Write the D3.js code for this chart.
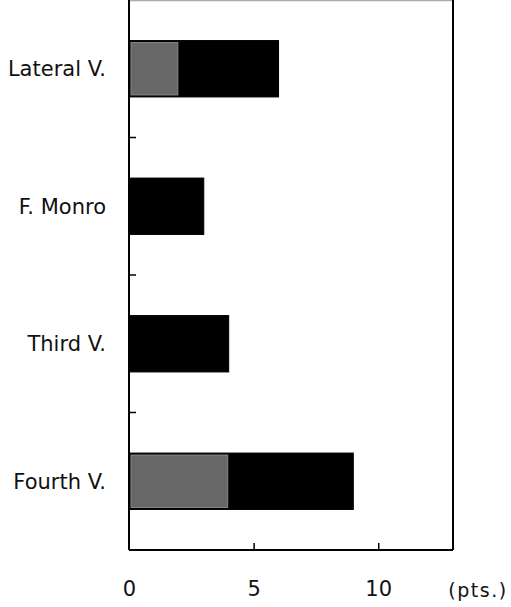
<!DOCTYPE html>
<meta charset="utf-8">
<style>
    body { margin: 0; background: #fff; }
    text { font-family: "DejaVu Sans", sans-serif; fill: #111; }
</style>
<svg width="511" height="607"></svg>
<script src="https://cdn.jsdelivr.net/npm/d3@7"></script>
<script>

    var categories = ["Lateral V.", "F. Monro", "Third V.", "Fourth V."];
    var grayValues = [2, 0, 0, 4];
    var blackValues = [4, 3, 4, 5];
    var xTicks = [0, 5, 10];
    var unitLabel = "(pts.)";

    var svg = d3.select("svg");

    var mLeft = 129, mRight = 453, mTop = 0, mBottom = 550;

    var x = d3.scaleLinear()
            .domain([0, 13])
            .range([mLeft, mRight]);

    var y = d3.scaleBand()
            .domain(categories)
            .range([mTop, mBottom])
            .paddingInner(0.59)
            .paddingOuter(0.295);

    // frame: light top line, dark right line
    svg.append("line")
            .attr("x1", mLeft).attr("x2", mRight)
            .attr("y1", mTop + 0.5).attr("y2", mTop + 0.5)
            .attr("stroke", "#aaa").attr("stroke-width", 1.5);
    svg.append("line")
            .attr("x1", mRight).attr("x2", mRight)
            .attr("y1", mTop).attr("y2", mBottom)
            .attr("stroke", "#000").attr("stroke-width", 2);

    var rows = categories.map(function(c, i) {
        return {cat: c, gray: grayValues[i], black: blackValues[i]};
    });

    var bar = svg.append("g").selectAll("g")
            .data(rows)
            .enter().append("g");

    // black (total) bar with outline
    bar.append("rect")
            .attr("x", x(0))
            .attr("y", function(d) { return y(d.cat); })
            .attr("width", function(d) { return x(d.gray + d.black) - x(0); })
            .attr("height", y.bandwidth())
            .attr("fill", "#000")
            .attr("stroke", "#000")
            .attr("stroke-width", 1);

    // gray part
    bar.filter(function(d) { return d.gray > 0; })
            .append("rect")
            .attr("x", x(0) + 2)
            .attr("y", function(d) { return y(d.cat) + 2; })
            .attr("width", function(d) { return x(d.gray) - x(0) - 3; })
            .attr("height", y.bandwidth() - 4)
            .attr("fill", "#676767")
            .attr("stroke", "#8a8a8a")
            .attr("stroke-width", 1);

    // category labels
    svg.append("g").selectAll("text")
            .data(categories)
            .enter().append("text")
            .attr("x", 106)
            .attr("y", function(d) { return y(d) + y.bandwidth() / 2; })
            .attr("dy", "0.35em")
            .attr("text-anchor", "end")
            .attr("font-size", 21)
            .attr("textLength", function(d) { return null; })
            .text(function(d) { return d; });

    // left axis with inward ticks between categories
    var sep = categories.slice(1).map(function(c) { return y(c) - y.step() * y.paddingInner() / 2; });
    svg.append("g").selectAll("line")
            .data(sep)
            .enter().append("line")
            .attr("x1", mLeft).attr("x2", mLeft + 7)
            .attr("y1", function(d) { return d; }).attr("y2", function(d) { return d; })
            .attr("stroke", "#000").attr("stroke-width", 1.5);

    svg.append("line")
            .attr("x1", mLeft).attr("x2", mLeft)
            .attr("y1", mTop).attr("y2", mBottom)
            .attr("stroke", "#000").attr("stroke-width", 2);

    // bottom axis
    var xAxis = svg.append("g")
            .attr("transform", "translate(0," + mBottom + ")")
            .call(d3.axisBottom(x).tickValues(xTicks).tickSize(-7).tickPadding(31).tickSizeOuter(0));
    xAxis.select(".domain").attr("stroke-width", 2).attr("d", "M" + mLeft + ",0H" + mRight);
    xAxis.selectAll(".tick line").attr("stroke-width", 1.5)
            .attr("display", function(d) { return d === 0 ? "none" : null; });
    xAxis.selectAll(".tick text")
            .attr("font-size", 21)
            .attr("font-family", "\"DejaVu Sans\", sans-serif")
            .attr("fill", "#111");

    svg.append("text")
            .attr("x", 478)
            .attr("y", mBottom + 40)
            .attr("dy", "0.35em")
            .attr("text-anchor", "middle")
            .attr("font-size", 19)
            .attr("letter-spacing", 1.5)
            .text(unitLabel);

</script>
